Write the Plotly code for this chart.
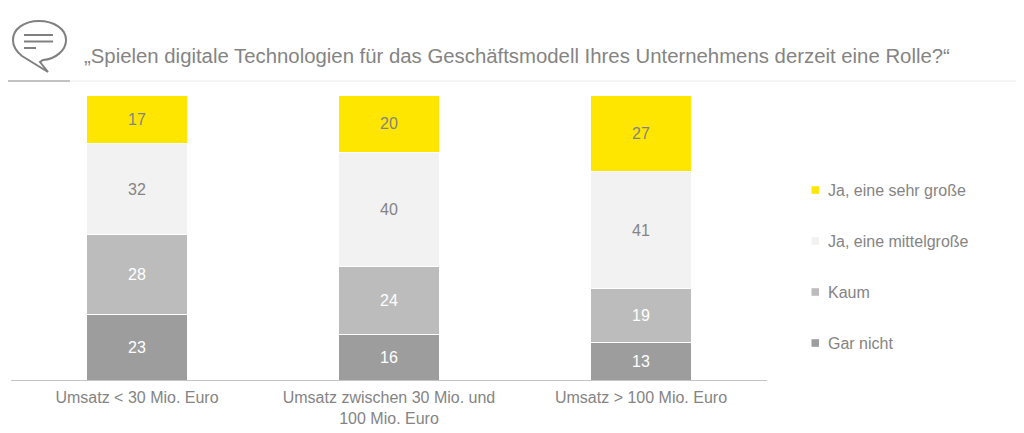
import plotly.graph_objects as go

categories = ["Umsatz < 30 Mio. Euro", "Umsatz zwischen 30 Mio. und<br>100 Mio. Euro", "Umsatz > 100 Mio. Euro"]
gar_nicht = [23, 16, 13]
kaum = [28, 24, 19]
mittelgross = [32, 40, 41]
sehr_gross = [17, 20, 27]

# the page body has an 8px margin, so the figure sits at (8, 8)
W = 1016
H = 425
GREY = "#848484"
FONT = "Liberation Sans"


# page pixels to axis domain, for the header and the legend
def px_x(x):
    return (x - 11) / 756


def px_y(y):
    return (380 - y) / 285


def pt(x, y):
    return f"{px_x(x):.4f},{px_y(y):.4f}"


def hline(x0, x1, y, color, width):
    return dict(type="line", xref="x domain", yref="y domain", x0=px_x(x0), x1=px_x(x1), y0=px_y(y), y1=px_y(y),
                line=dict(color=color, width=width))


fig = go.Figure()

# stacked bars, bottom to top
stack = [
    ("Gar nicht", gar_nicht, "#9d9d9d", "white"),
    ("Kaum", kaum, "#bcbcbc", "white"),
    ("Ja, eine mittelgroße", mittelgross, "#f2f2f2", GREY),
    ("Ja, eine sehr große", sehr_gross, "#ffe600", GREY),
]
for name, values, color, text_color in stack:
    fig.add_trace(go.Bar(
        x=categories, y=values, name=name, width=0.4,
        marker=dict(color=color, line=dict(color="white", width=1)),
        text=values, textposition="inside", insidetextanchor="middle",
        textangle=0, constraintext="none",
        textfont=dict(color=text_color, size=16, family=FONT),
        showlegend=False,
    ))

bubble = ("M " + pt(43, 60)
          + " C " + pt(56, 59) + " " + pt(66, 50) + " " + pt(66, 40)
          + " C " + pt(66, 29) + " " + pt(54, 21) + " " + pt(39, 21)
          + " C " + pt(24, 21) + " " + pt(13, 29) + " " + pt(13, 40)
          + " C " + pt(13, 47) + " " + pt(17, 52) + " " + pt(22, 56)
          + " L " + pt(48, 72) + " L " + pt(40, 62) + " Z")

shapes = [
    hline(8, 1024, 81, "#ececec", 1),
    hline(8, 70, 81, "#b0b0b0", 1.5),
    dict(type="path", xref="x domain", yref="y domain", path=bubble, line=dict(color="#808080", width=2)),
    hline(24, 53, 35, "#808080", 2),
    hline(24, 53, 41.5, "#808080", 2),
    hline(24, 36, 48, "#808080", 2),
]

annotations = [dict(
    text="„Spielen digitale Technologien für das Geschäftsmodell Ihres Unternehmens derzeit eine Rolle?“",
    xref="x domain", yref="y domain", x=px_x(82), y=px_y(56), xanchor="left", yanchor="middle",
    showarrow=False, font=dict(size=20.35, color=GREY, family=FONT),
)]

# legend drawn by hand: small squares sitting close to the text
for i, (name, values, color, text_color) in enumerate(reversed(stack)):
    y = 190 + i * 51
    shapes.append(dict(type="rect", xref="x domain", yref="y domain", x0=px_x(811.5), x1=px_x(819),
                       y0=px_y(y - 3.8), y1=px_y(y + 3.8), fillcolor=color, line=dict(width=0)))
    annotations.append(dict(text=name, xref="x domain", yref="y domain", x=px_x(826), y=px_y(y),
                            xanchor="left", yanchor="middle", showarrow=False,
                            font=dict(size=16, color=GREY, family=FONT)))

fig.update_layout(
    width=W, height=H, barmode="stack",
    paper_bgcolor="white", plot_bgcolor="white",
    margin=dict(l=3, r=W - 759, t=87, b=H - 372, autoexpand=False),
    font=dict(family=FONT, color=GREY, size=16),
    shapes=shapes,
    annotations=annotations,
    showlegend=False,
    xaxis=dict(
        type="category", showgrid=False, ticks="outside", ticklen=3, tickcolor="rgba(0,0,0,0)", showline=True,
        linecolor="#c4c4c4", linewidth=1, tickfont=dict(size=16, color=GREY),
    ),
    yaxis=dict(range=[0, 100], visible=False),
)

fig.write_html("out.html", config=dict(displayModeBar=False))
